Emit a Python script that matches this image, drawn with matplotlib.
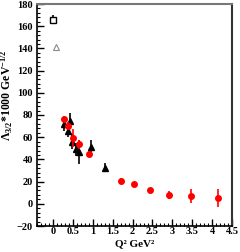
import matplotlib
matplotlib.use("Agg")
import matplotlib.pyplot as plt
from matplotlib.ticker import MultipleLocator

plt.rcParams['font.family'] = ['Liberation Serif', 'DejaVu Serif']
plt.rcParams['mathtext.fontset'] = 'custom'
plt.rcParams['mathtext.rm'] = 'Liberation Serif:bold'
plt.rcParams['mathtext.it'] = 'Liberation Serif:bold'

# red circles
red_q2 = [0.29, 0.39, 0.50, 0.65, 0.90, 1.72, 2.05, 2.45, 2.91, 3.48, 4.16]
red_a = [76.5, 70.5, 59, 53.5, 45, 20.5, 17.5, 12.5, 8, 7, 5.5]
red_err = [3, 3, 8, 4, 3, 3, 2.5, 2, 3.5, 6, 8]

# black triangles
tri_q2 = [0.27, 0.42, 0.37, 0.48, 0.57, 0.65, 0.95, 1.31]
tri_a = [72, 74.5, 65.5, 56, 49, 46.5, 51.5, 32.5]
tri_err = [6, 7, 5, 7, 6, 11, 6, 4]

# open square (photon point)
sq_q2 = [0.0]
sq_a = [166]
sq_err = [4]

# open grey triangle
gt_q2 = [0.08]
gt_a = [141]

fig = plt.figure(figsize=(2.4, 2.52), dpi=100)
ax = fig.add_axes([37 / 240, 1 - 226 / 252, 195 / 240, 222 / 252])

ax.errorbar(tri_q2, tri_a, yerr=tri_err, fmt='^', color='black', ms=4,
            elinewidth=1.2, capsize=0, zorder=3)
ax.errorbar(red_q2, red_a, yerr=red_err, fmt='o', color='red', ms=4,
            elinewidth=1.2, capsize=0, zorder=4)
ax.errorbar(sq_q2, sq_a, yerr=sq_err, fmt='s', mfc='white', mec='black',
            ecolor='black', ms=4.2, elinewidth=1.2, capsize=0, zorder=3)
ax.plot(gt_q2, gt_a, '^', mfc='none', mec='#888888', ms=4, mew=0.8)

ax.set_xlim(-0.4, 4.5)
ax.set_ylim(-20, 180)
ax.xaxis.set_major_locator(MultipleLocator(0.5))
ax.xaxis.set_minor_locator(MultipleLocator(0.1))
ax.yaxis.set_major_locator(MultipleLocator(20))
ax.yaxis.set_minor_locator(MultipleLocator(4))
ax.tick_params(which='both', direction='in', top=False, right=False,
               labelsize=7.5, pad=3)
ax.tick_params(axis='x', pad=1)
ax.tick_params(which='major', length=5, width=1)
ax.tick_params(which='minor', length=2.5, width=0.8)
ax.set_xticks([0, 0.5, 1, 1.5, 2, 2.5, 3, 3.5, 4, 4.5])
ax.set_xticklabels(['0', '0.5', '1', '1.5', '2', '2.5', '3', '3.5', '4', '4.5'])
for lab in ax.get_xticklabels() + ax.get_yticklabels():
    lab.set_fontweight('bold')

for s in ['left', 'bottom']:
    ax.spines[s].set_linewidth(1.2)
ax.spines['top'].set_color('#777777')
ax.spines['top'].set_linewidth(1.5)
ax.spines['right'].set_color('#333333')
ax.spines['right'].set_linewidth(1.5)

ax.set_xlabel('Q² GeV²', fontsize=8, fontweight='bold')
ax.xaxis.set_label_coords(0.5, -0.059)
ax.set_ylabel(r'$\Lambda_{3/2}$*1000 GeV$^{-1/2}$', fontsize=8.5,
              fontweight='bold')
ax.yaxis.set_label_coords(-0.112, 0.59)

fig.savefig('out.png', dpi=100)
